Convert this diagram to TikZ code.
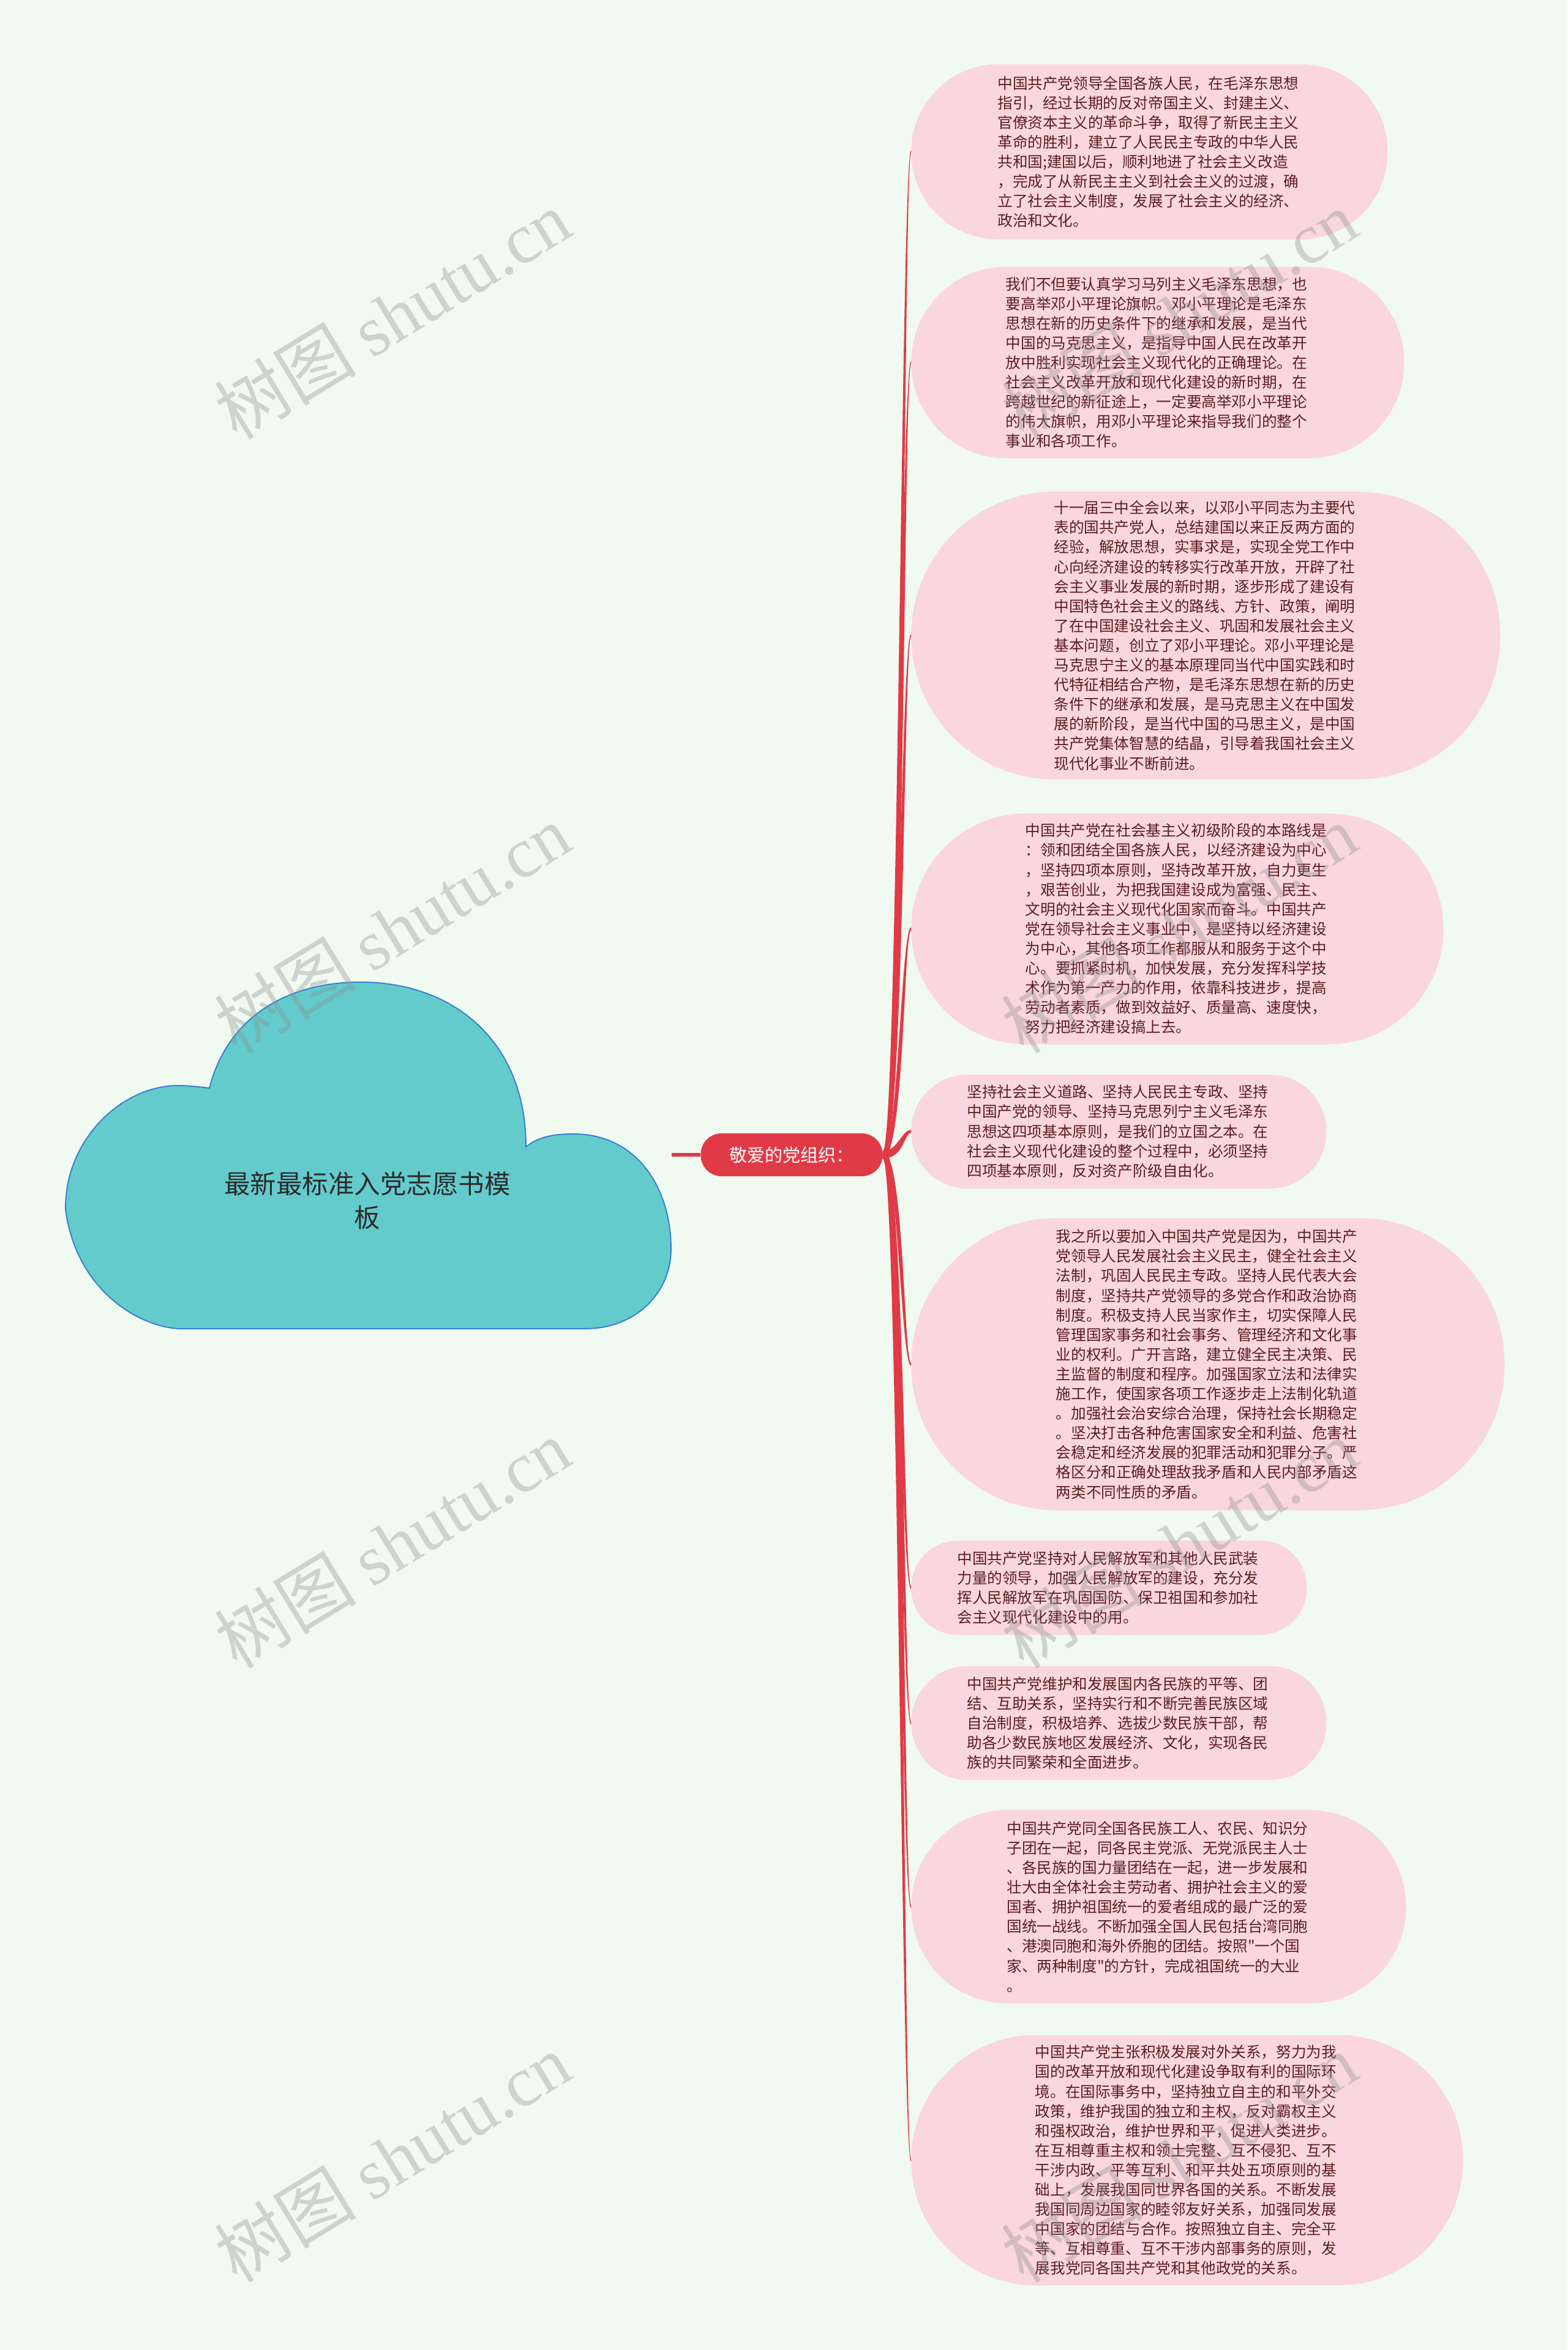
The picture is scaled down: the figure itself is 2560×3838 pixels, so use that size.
\documentclass[tikz,border=0pt]{standalone}
\usepackage{fontspec}
\setmainfont{Noto Sans CJK SC}
\newfontfamily\cjk{Noto Sans CJK SC}
\newfontfamily\wmlatin{Liberation Serif}
\usetikzlibrary{calc}
\definecolor{bgc}{HTML}{F1FAF0}
\definecolor{cloudfill}{HTML}{64CBCD}
\definecolor{cloudline}{HTML}{3A80D2}
\definecolor{cloudtxt}{HTML}{2B2B2B}
\definecolor{topicc}{HTML}{E13A47}
\definecolor{leafc}{HTML}{FAD7DC}
\definecolor{leaftext}{HTML}{5C1E22}
\definecolor{branchc}{HTML}{E03A47}
\definecolor{wmc}{HTML}{8C8C8C}
\tikzset{
 leaf/.style={rectangle, fill=leafc, anchor=west, text=leaftext, text width=248pt, align=left,
   inner xsep=0pt, inner ysep=2pt, font=\cjk\fontsize{12.3pt}{16.05pt}\selectfont,
   minimum height={#1*0.5pt}, minimum width={(492+#1)*0.5pt}, rounded corners={(#1/2-1)*0.5pt}},
 topic/.style={rectangle, fill=topicc, text=white, rounded corners=17pt, minimum width=148.5pt,
   minimum height=35pt, inner sep=0pt, font=\cjk\fontsize{14.5pt}{17pt}\selectfont},
 cloudtext/.style={align=center, text=cloudtxt, font=\cjk\fontsize{21.25pt}{27.5pt}\selectfont},
 wm/.style={rotate=31.5, text=wmc, opacity=0.35, font=\fontsize{58pt}{60pt}\selectfont},
 link/.style={draw=branchc, line width=3pt}
}
% tapered branch: #1 leaf name, #2 sign (-1 upward, +1 downward)
\newcommand\branchto[2]{%
 \fill[branchc] ($(topic.east)+(0,-6)$) .. controls ($(topic.east)+(30+#2*5,-6)$) and ($(#1.west)+(-14+#2*2,-2.5)$) .. ($(#1.west)+(0,-2.5)$)
  -- ($(#1.west)+(0,2.5)$) .. controls ($(#1.west)+(-14-#2*2,2.5)$) and ($(topic.east)+(30-#2*5,6)$) .. ($(topic.east)+(0,6)$) -- cycle;}
\begin{document}
\begin{tikzpicture}[x=0.5pt,y=-0.5pt]
\fill[bgc] (0,0) rectangle (2560,3838);
\useasboundingbox (0,0) rectangle (2560,3838);
% cloud
\filldraw[fill=cloudfill, draw=cloudline, line width=1pt]
 (294,2170) .. controls (230,2168) and (125,2110) .. (107,1975)
 .. controls (106,1860) and (200,1773) .. (290,1773)
 .. controls (315,1773) and (330,1776) .. (342,1777)
 .. controls (372,1660) and (470,1604) .. (589,1604)
 .. controls (740,1604) and (859,1700) .. (859,1873)
 .. controls (880,1856) and (905,1852) .. (937,1852)
 .. controls (1040,1852) and (1096,1940) .. (1096,2040)
 .. controls (1096,2110) and (1040,2170) .. (955,2170) -- cycle;
\node[cloudtext] (cloud) at (600,1961) {最新最标准入党志愿书模\\板};
\coordinate (cloudR) at (1097,1886);
\node[topic] (topic) at (1293,1886) {敬爱的党组织：};
\draw[link] (cloudR) -- (topic.west);

\node[leaf=286] (l1) at (1488,248) {中国共产党领导全国各族人民，在毛泽东思想\\指引，经过长期的反对帝国主义、封建主义、\\官僚资本主义的革命斗争，取得了新民主主义\\革命的胜利，建立了人民民主专政的中华人民\\共和国;建国以后，顺利地进了社会主义改造\\，完成了从新民主主义到社会主义的过渡，确\\立了社会主义制度，发展了社会主义的经济、\\政治和文化。};
\node[leaf=313] (l2) at (1488,592) {我们不但要认真学习马列主义毛泽东思想，也\\要高举邓小平理论旗帜。邓小平理论是毛泽东\\思想在新的历史条件下的继承和发展，是当代\\中国的马克思主义，是指导中国人民在改革开\\放中胜利实现社会主义现代化的正确理论。在\\社会主义改革开放和现代化建设的新时期，在\\跨越世纪的新征途上，一定要高举邓小平理论\\的伟大旗帜，用邓小平理论来指导我们的整个\\事业和各项工作。};
\node[leaf=470] (l3) at (1488,1038) {十一届三中全会以来，以邓小平同志为主要代\\表的国共产党人，总结建国以来正反两方面的\\经验，解放思想，实事求是，实现全党工作中\\心向经济建设的转移实行改革开放，开辟了社\\会主义事业发展的新时期，逐步形成了建设有\\中国特色社会主义的路线、方针、政策，阐明\\了在中国建设社会主义、巩固和发展社会主义\\基本问题，创立了邓小平理论。邓小平理论是\\马克思宁主义的基本原理同当代中国实践和时\\代特征相结合产物，是毛泽东思想在新的历史\\条件下的继承和发展，是马克思主义在中国发\\展的新阶段，是当代中国的马思主义，是中国\\共产党集体智慧的结晶，引导着我国社会主义\\现代化事业不断前进。};
\node[leaf=377] (l4) at (1488,1517) {中国共产党在社会基主义初级阶段的本路线是\\：领和团结全国各族人民，以经济建设为中心\\，坚持四项本原则，坚持改革开放，自力更生\\，艰苦创业，为把我国建设成为富强、民主、\\文明的社会主义现代化国家而奋斗。中国共产\\党在领导社会主义事业中，是坚持以经济建设\\为中心，其他各项工作都服从和服务于这个中\\心。要抓紧时机，加快发展，充分发挥科学技\\术作为第一产力的作用，依靠科技进步，提高\\劳动者素质，做到效益好、质量高、速度快，\\努力把经济建设搞上去。};
\node[leaf=186] (l5) at (1488,1848) {坚持社会主义道路、坚持人民民主专政、坚持\\中国产党的领导、坚持马克思列宁主义毛泽东\\思想这四项基本原则，是我们的立国之本。在\\社会主义现代化建设的整个过程中，必须坚持\\四项基本原则，反对资产阶级自由化。};
\node[leaf=477] (l6) at (1488,2228) {我之所以要加入中国共产党是因为，中国共产\\党领导人民发展社会主义民主，健全社会主义\\法制，巩固人民民主专政。坚持人民代表大会\\制度，坚持共产党领导的多党合作和政治协商\\制度。积极支持人民当家作主，切实保障人民\\管理国家事务和社会事务、管理经济和文化事\\业的权利。广开言路，建立健全民主决策、民\\主监督的制度和程序。加强国家立法和法律实\\施工作，使国家各项工作逐步走上法制化轨道\\。加强社会治安综合治理，保持社会长期稳定\\。坚决打击各种危害国家安全和利益、危害社\\会稳定和经济发展的犯罪活动和犯罪分子。严\\格区分和正确处理敌我矛盾和人民内部矛盾这\\两类不同性质的矛盾。};
\node[leaf=154] (l7) at (1488,2593) {中国共产党坚持对人民解放军和其他人民武装\\力量的领导，加强人民解放军的建设，充分发\\挥人民解放军在巩固国防、保卫祖国和参加社\\会主义现代化建设中的用。};
\node[leaf=186] (l8) at (1488,2814) {中国共产党维护和发展国内各民族的平等、团\\结、互助关系，坚持实行和不断完善民族区域\\自治制度，积极培养、选拔少数民族干部，帮\\助各少数民族地区发展经济、文化，实现各民\\族的共同繁荣和全面进步。};
\node[leaf=316] (l9) at (1488,3114) {中国共产党同全国各民族工人、农民、知识分\\子团在一起，同各民主党派、无党派民主人士\\、各民族的国力量团结在一起，进一步发展和\\壮大由全体社会主劳动者、拥护社会主义的爱\\国者、拥护祖国统一的爱者组成的最广泛的爱\\国统一战线。不断加强全国人民包括台湾同胞\\、港澳同胞和海外侨胞的团结。按照"一个国\\家、两种制度"的方针，完成祖国统一的大业\\。};
\node[leaf=409] (l10) at (1488,3528) {中国共产党主张积极发展对外关系，努力为我\\国的改革开放和现代化建设争取有利的国际环\\境。在国际事务中，坚持独立自主的和平外交\\政策，维护我国的独立和主权，反对霸权主义\\和强权政治，维护世界和平，促进人类进步。\\在互相尊重主权和领土完整、互不侵犯、互不\\干涉内政、平等互利、和平共处五项原则的基\\础上，发展我国同世界各国的关系。不断发展\\我国同周边国家的睦邻友好关系，加强同发展\\中国家的团结与合作。按照独立自主、完全平\\等、互相尊重、互不干涉内部事务的原则，发\\展我党同各国共产党和其他政党的关系。};

\branchto{l1}{-1}
\branchto{l2}{-1}
\branchto{l3}{-1}
\branchto{l4}{-1}
\branchto{l5}{-1}
\branchto{l6}{1}
\branchto{l7}{1}
\branchto{l8}{1}
\branchto{l9}{1}
\branchto{l10}{1}

\foreach \yy in {514,1517,2521,3524} {
 \node[wm] (wmL\yy) at (641,\yy) {树图 {\wmlatin shutu.cn}};
 \node[wm] (wmR\yy) at (1926,\yy) {树图 {\wmlatin shutu.cn}};
}
\end{tikzpicture}
\end{document}
